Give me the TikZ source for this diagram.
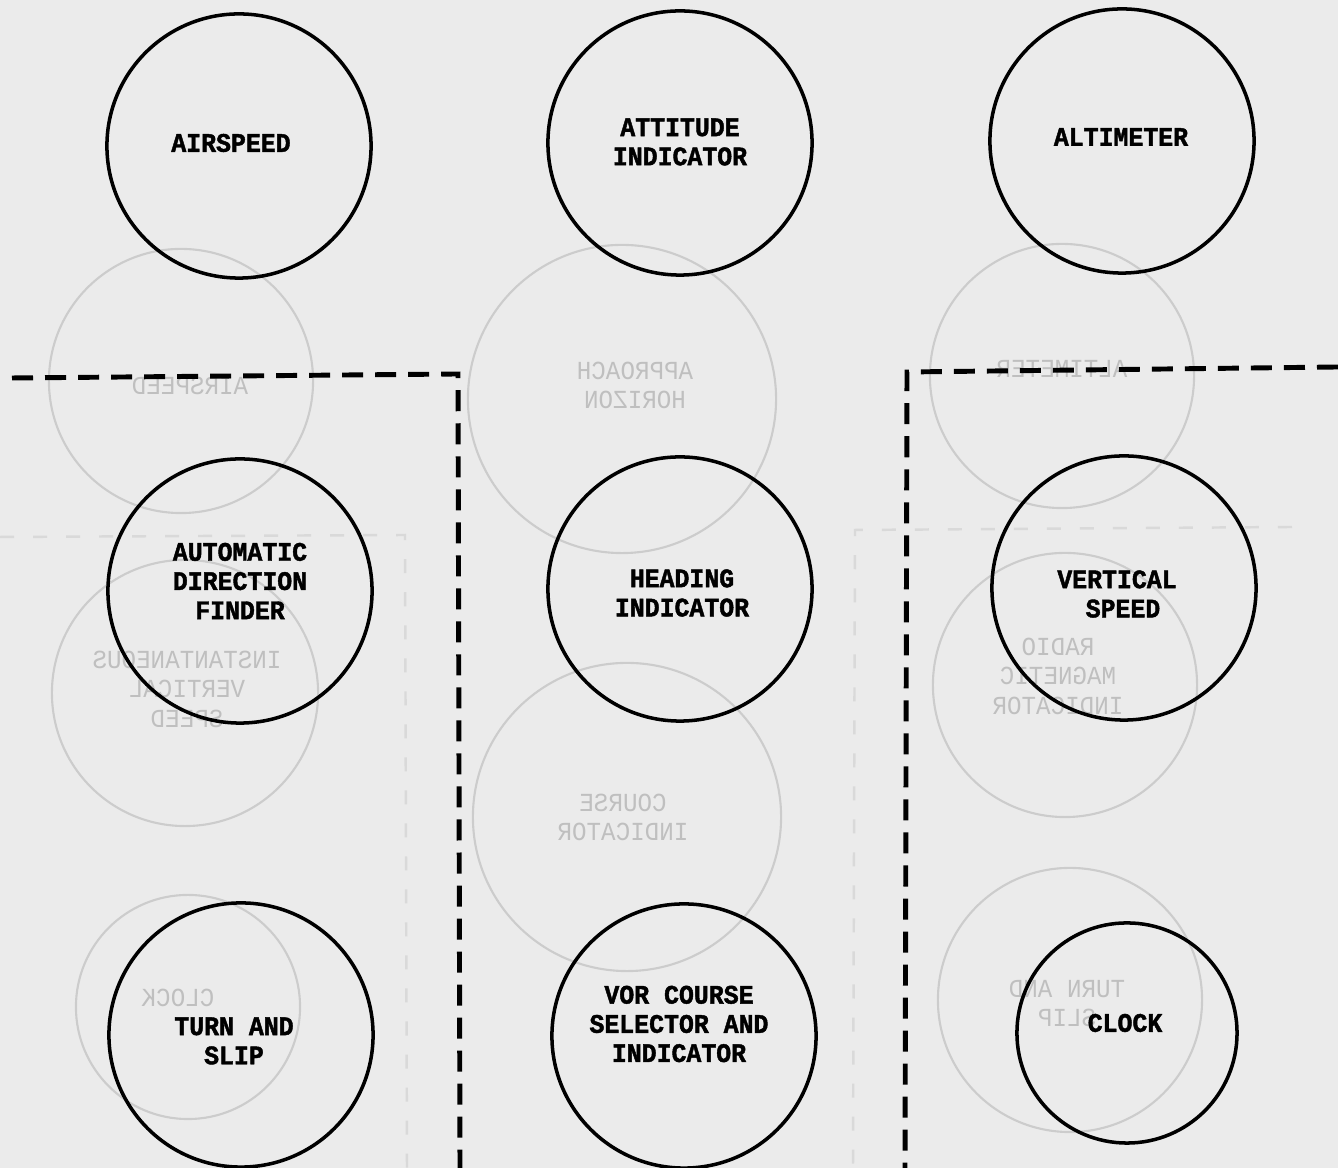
\documentclass[tikz,border=0pt]{standalone}
\usepackage{fontspec}
\usepackage{graphicx}
\newfontfamily\typ[FakeStretch=0.93]{Liberation Mono}
\newfontfamily\typb[FakeStretch=0.93,BoldFeatures={FakeBold=1.6}]{Liberation Mono}
\begin{document}
\begin{tikzpicture}[x=0.01cm,y=-0.01cm,
  inst/.style={draw=black, line width=1pt, circle, inner sep=0pt},
  lab/.style={font=\typb\bfseries\fontsize{7.6}{8.3}\selectfont, align=center, text=black, inner sep=0pt},
  ghost/.style={draw=black!20, line width=0.6pt, circle, inner sep=0pt},
  ghosttxt/.style={font=\typ\fontsize{7.4}{8.5}\selectfont, text=black!25, inner sep=0pt},
  panel/.style={draw=black, line width=1.4pt, dash pattern=on 0.21cm off 0.12cm},
  ghostdash/.style={draw=black!15, line width=0.7pt, dash pattern=on 0.14cm off 0.19cm}]
\fill[black!8] (0,0) rectangle (1338,1168);
\useasboundingbox (0,0) rectangle (1338,1168);
% show-through from the reverse side
\node[ghost, minimum size=2.64cm] (g1) at (181,381) {};
\node[ghost, minimum size=3.08cm] (g2) at (622,399) {};
\node[ghost, minimum size=2.64cm] (g3) at (1062,376) {};
\node[ghost, minimum size=2.66cm] (g4) at (185,693) {};
\node[ghost, minimum size=3.08cm] (g5) at (627,817) {};
\node[ghost, minimum size=2.64cm] (g6) at (1065,685) {};
\node[ghost, minimum size=2.24cm] (g7) at (188,1007) {};
\node[ghost, minimum size=2.64cm] (g8) at (1070,1000) {};
\node[ghosttxt] (g1t) at (190,386) {\reflectbox{AIRSPEED}};
\node[ghosttxt] (g2t) at (635,388) {\reflectbox{\begin{tabular}{@{}c@{}}APPROACH\\HORIZON\end{tabular}}};
\node[ghosttxt] (g3t) at (1062,369) {\reflectbox{ALTIMETER}};
\node[ghosttxt] (g4t) at (187,692) {\reflectbox{\begin{tabular}{@{}c@{}}INSTANTANEOUS\\VERTICAL\\SPEED\end{tabular}}};
\node[ghosttxt] (g5t) at (623,820) {\reflectbox{\begin{tabular}{@{}c@{}}COURSE\\INDICATOR\end{tabular}}};
\node[ghosttxt] (g6t) at (1058,679) {\reflectbox{\begin{tabular}{@{}c@{}}RADIO\\MAGNETIC\\INDICATOR\end{tabular}}};
\node[ghosttxt] (g7t) at (178,998) {\reflectbox{CLOCK}};
\node[ghosttxt] (g8t) at (1067,1006) {\reflectbox{\begin{tabular}{@{}c@{}}TURN AND\\SLIP\end{tabular}}};
\coordinate (gl0) at (0,537);
\coordinate (gl1) at (405,535);
\coordinate (gl2) at (407,1168);
\coordinate (gr0) at (1292,527);
\coordinate (gr1) at (855,530);
\coordinate (gr2) at (853,1168);
\draw[ghostdash] (gl0) -- (gl1) -- (gl2);
\draw[ghostdash] (gr0) -- (gr1) -- (gr2);
% panel boundaries
\coordinate (dl0) at (12,378);
\coordinate (dl1) at (458,374);
\coordinate (dl2) at (460,1168);
\coordinate (dr0) at (1338,367);
\coordinate (dr1) at (907,372);
\coordinate (dr2) at (905,1168);
\draw[panel] (dl0) -- (dl1) -- (dl2);
\draw[panel] (dr0) -- (dr1) -- (dr2);
% instruments
\node[inst, minimum size=2.64cm] (airspeed) at (239,146) {};
\node[inst, minimum size=2.64cm] (attitude) at (680,143) {};
\node[inst, minimum size=2.64cm] (altimeter) at (1122,141) {};
\node[inst, minimum size=2.64cm] (adf) at (240,591) {};
\node[inst, minimum size=2.64cm] (heading) at (680,589) {};
\node[inst, minimum size=2.64cm] (vsi) at (1124,588) {};
\node[inst, minimum size=2.64cm] (turn) at (241,1035) {};
\node[inst, minimum size=2.64cm] (vor) at (684,1036) {};
\node[inst, minimum size=2.20cm] (clock) at (1127,1033) {};
\node[lab] (airspeedL) at (231,143) {AIRSPEED};
\node[lab] (attitudeL) at (680,142) {ATTITUDE\\INDICATOR};
\node[lab] (altimeterL) at (1121,137) {ALTIMETER};
\node[lab] (adfL) at (240,581) {AUTOMATIC\\DIRECTION\\FINDER};
\node[lab] (headingL) at (682,593) {HEADING\\INDICATOR};
\node[lab] (vsiL) at (1117,594) {VERTICAL\\\hspace*{0.12cm}SPEED};
\node[lab] (turnL) at (234,1041) {TURN AND\\SLIP};
\node[lab] (vorL) at (679,1024) {VOR COURSE\\SELECTOR AND\\INDICATOR};
\node[lab] (clockL) at (1125,1023) {CLOCK};
\end{tikzpicture}
\end{document}
